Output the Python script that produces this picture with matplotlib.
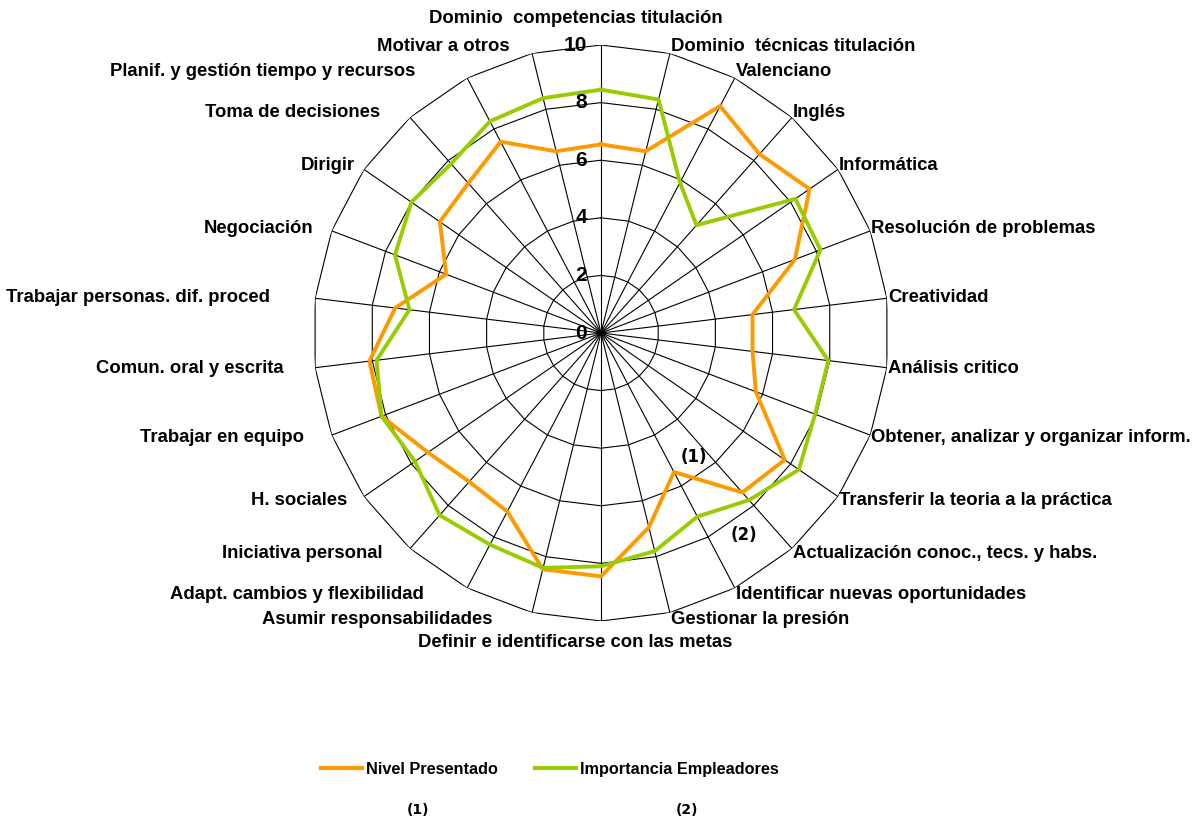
import numpy as np
import matplotlib
matplotlib.use("Agg")
import matplotlib.pyplot as plt
from matplotlib.lines import Line2D

plt.rcParams['font.family'] = ['Liberation Sans', 'DejaVu Sans']

# Competencias (en sentido horario desde arriba)
categorias = [
    "Dominio  competencias titulación",
    "Dominio  técnicas titulación",
    "Valenciano",
    "Inglés",
    "Informática",
    "Resolución de problemas",
    "Creatividad",
    "Análisis critico",
    "Obtener, analizar y organizar inform.",
    "Transferir la teoria a la práctica",
    "Actualización conoc., tecs. y habs.",
    "Identificar nuevas oportunidades",
    "Gestionar la presión",
    "Definir e identificarse con las metas",
    "Asumir responsabilidades",
    "Adapt. cambios y flexibilidad",
    "Iniciativa personal",
    "H. sociales",
    "Trabajar en equipo",
    "Comun. oral y escrita",
    "Trabajar personas. dif. proced",
    "Negociación",
    "Dirigir",
    "Toma de decisiones",
    "Planif. y gestión tiempo y recursos",
    "Motivar a otros",
]

nivel_presentado = [6.55, 6.5, 8.9, 8.3, 8.8, 7.2, 5.3, 5.3, 5.75, 7.75, 7.4, 5.45, 6.95,
                    8.45, 8.45, 7.0, 6.9, 7.3, 8.15, 8.1, 7.2, 5.75, 6.8, 6.95, 7.5, 6.5]
importancia_empleadores = [8.45, 8.35, 5.9, 5.0, 8.2, 8.15, 6.75, 7.95, 7.95, 8.35, 7.75, 7.2, 7.8,
                           8.1, 8.4, 8.3, 8.45, 7.85, 8.15, 7.85, 6.7, 7.65, 8.0, 7.85, 8.3, 8.4]

anillos = [0, 2, 4, 6, 8, 10]

naranja = '#FF9900'
verde = '#99CC00'

n = len(categorias)
theta = np.arange(n) * 2 * np.pi / n
theta_cerrado = np.append(theta, theta[0])

fig = plt.figure(figsize=(12, 8.21), dpi=100)
ax = fig.add_axes([313 / 1200, 1 - 621 / 821, 576 / 1200, 576 / 821], projection='polar')
ax.set_theta_zero_location('N')
ax.set_theta_direction(-1)
ax.set_ylim(0, 10)
ax.grid(False)
ax.spines['polar'].set_visible(False)
ax.set_xticks([])
ax.set_yticks([])
ax.patch.set_alpha(0)

# rejilla poligonal y radios
for r in anillos[1:]:
    ax.plot(theta_cerrado, [r] * (n + 1), color='black', lw=0.8, zorder=1)
for t in theta:
    ax.plot([t, t], [0, 10], color='black', lw=0.8, zorder=1)

# series
ax.plot(theta_cerrado, nivel_presentado + nivel_presentado[:1], color=naranja, lw=2.8, zorder=3)
ax.plot(theta_cerrado, importancia_empleadores + importancia_empleadores[:1], color=verde, lw=2.8, zorder=3)

# etiquetas de los anillos
for r in anillos:
    ax.annotate(str(r), xy=(0, r), xytext=(-14, 0), textcoords='offset pixels',
                ha='right', va='center', fontsize=15, fontweight='bold', zorder=4)

# etiquetas de las categorías
estilo = dict(textcoords='offset pixels', va='center', fontsize=13.3, fontweight='bold',
              annotation_clip=False)
izquierda = []
for i, (t, lab) in enumerate(zip(theta, categorias)):
    dy = 7 * np.cos(t)
    if i == 0:
        ax.annotate(lab, xy=(t, 10), xytext=(-25, 27), ha='center', **estilo)
    elif i == n // 2:
        ax.annotate(lab, xy=(t, 10), xytext=(-26, -21), ha='center', **estilo)
    elif i < n // 2:
        ax.annotate(lab, xy=(t, 10), xytext=(1, dy), ha='left', **estilo)
    else:
        txt = ax.annotate(lab, xy=(t, 10), xytext=(0, dy), ha='right', **estilo)
        izquierda.append((txt, dy))

# en el lado izquierdo el hueco crece con el ancho del texto
fig.canvas.draw()
renderer = fig.canvas.get_renderer()
for txt, dy in izquierda:
    w = txt.get_window_extent(renderer).width
    txt.set_position((-0.17 * w, dy))

# marcas (1) y (2) dentro del gráfico
ax.annotate('(1)', xy=(theta[11], 5.45), xytext=(20, 15), textcoords='offset pixels',
            ha='center', va='center', fontsize=12, fontweight='bold', family='DejaVu Sans')
ax.annotate('(2)', xy=(theta[10], 7.75), xytext=(-5, -35), textcoords='offset pixels',
            ha='center', va='center', fontsize=12, fontweight='bold', family='DejaVu Sans')

handles = [Line2D([], [], color=naranja, lw=3), Line2D([], [], color=verde, lw=3)]
fig.legend(handles, ['Nivel Presentado', 'Importancia Empleadores'], loc='center',
           bbox_to_anchor=(550 / 1200, 1 - 769 / 821), ncol=2, frameon=False,
           prop={'weight': 'bold', 'size': 11.7}, handlelength=2.5, handletextpad=0.25,
           columnspacing=2.3)

fig.text(418 / 1200, 1 - 810 / 821, '(1)', ha='center', va='center', fontsize=10,
         fontweight='bold', family='DejaVu Sans')
fig.text(687 / 1200, 1 - 810 / 821, '(2)', ha='center', va='center', fontsize=10,
         fontweight='bold', family='DejaVu Sans')

fig.savefig('out.png', dpi=100)
